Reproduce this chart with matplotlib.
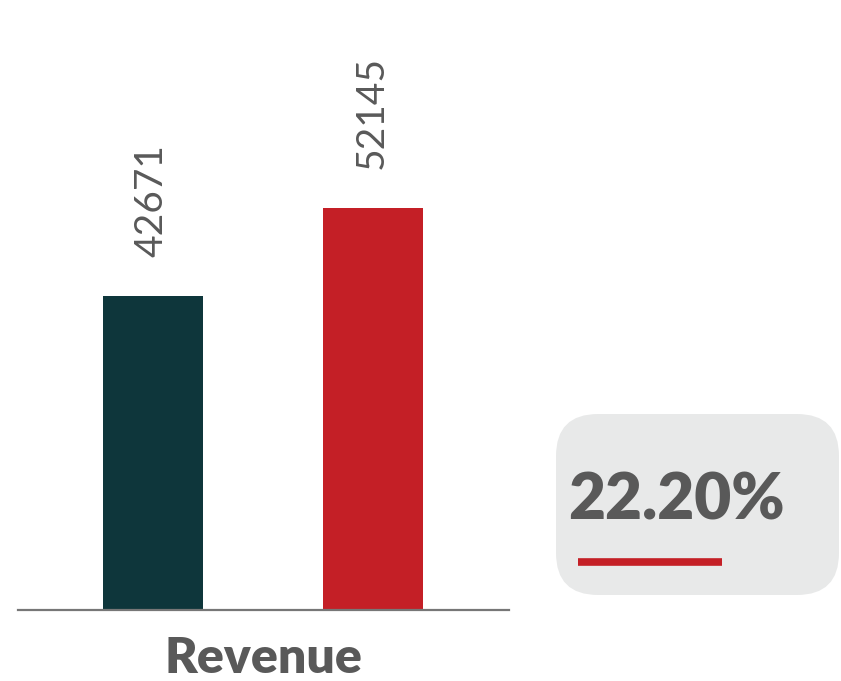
import matplotlib
matplotlib.use('Agg')
import matplotlib.pyplot as plt
from matplotlib.patches import FancyBboxPatch
from matplotlib.lines import Line2D

# chart data
categories = ['Prior', 'Current']
values = [42671, 52145]
bar_colors = ['#0e363b', '#c41f26']
group_label = 'Revenue'

# axis range (bars do not start at zero in the original)
Y_MIN = 8870
Y_MAX = 73500

GRAY = '#595959'
FONT = 'Lato'

W, H = 841, 681
fig = plt.figure(figsize=(W / 100, H / 100), dpi=100)

# axes placed in pixel terms
left, right, bottom, top = 18, 509, 610, 10
ax = fig.add_axes([left / W, (H - bottom) / H, (right - left) / W, (bottom - top) / H])

x = list(range(len(values)))
ax.bar(x, values, width=0.455, color=bar_colors, zorder=2)
ax.set_xlim(-0.614, 1.618)
ax.set_ylim(Y_MIN, Y_MAX)

for xi, v in zip(x, values):
    ax.annotate(str(v), (xi, v), xytext=(-1, 28), textcoords='offset points',
                rotation=90, ha='center', va='bottom', fontsize=28,
                color=GRAY, family=FONT)

for s in ['top', 'right', 'left']:
    ax.spines[s].set_visible(False)
ax.spines['bottom'].set_color('#777777')
ax.spines['bottom'].set_linewidth(1.6)
ax.set_xticks([])
ax.set_yticks([])

fig.text(263 / W, (H - 673) / H, group_label, ha='center', va='baseline',
         fontsize=36, fontweight='heavy', color=GRAY, family=FONT)

# change box
pct = (values[1] - values[0]) / values[0] * 100
bx0, by0, bx1, by1 = 556, 414, 839, 595
box = FancyBboxPatch((bx0 / W, (H - by1) / H), (bx1 - bx0) / W, (by1 - by0) / H,
                     boxstyle='round,pad=0,rounding_size=0.05',
                     transform=fig.transFigure, facecolor='#e8e9e9',
                     edgecolor='none', mutation_aspect=W / H)
fig.patches.append(box)
fig.text(568 / W, (H - 519) / H, f'{pct:.2f}%', ha='left', va='baseline',
         fontsize=46, fontweight='heavy', color=GRAY, family=FONT)
fig.lines.append(Line2D([578 / W, 722 / W], [(H - 562) / H] * 2,
                        transform=fig.transFigure, color='#c41f26', linewidth=5.5,
                        solid_capstyle='butt'))

fig.savefig('out.png', dpi=100)
